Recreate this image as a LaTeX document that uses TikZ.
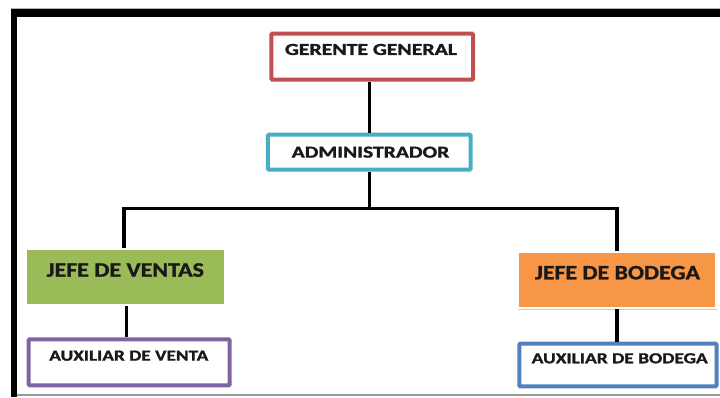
\documentclass[tikz,border=0pt]{standalone}
\usepackage{fontspec}
\setmainfont{Carlito}[BoldFeatures={FakeBold=1.2}]
\usetikzlibrary{shadows}
\definecolor{cred}{HTML}{C0504D}
\definecolor{cteal}{HTML}{4BACC6}
\definecolor{cgreen}{HTML}{9BBB59}
\definecolor{corange}{HTML}{F79646}
\definecolor{cpurple}{HTML}{8064A2}
\definecolor{cblue}{HTML}{4F81BD}
\tikzset{
  outlinebox/.style={draw=#1, line width=4pt, fill=white, rounded corners=1pt, inner sep=0pt},
  filledbox/.style={draw=white, line width=2pt, fill=#1, inner sep=0pt,
    drop shadow={shadow xshift=0.8pt, shadow yshift=-1.2pt, fill=black!60, opacity=0.35}},
  lbl/.style={inner sep=0pt, anchor=center, font=\bfseries, text=black!90},
  conn/.style={draw=black, line width=3.3pt, line join=miter},
}
\begin{document}
\begin{tikzpicture}[x=1pt, y=-1pt]
\useasboundingbox (0,0) rectangle (720,397);
% frame
\fill[black!30] (11,7.6) rectangle (720,9);
\fill[black] (11,9) rectangle (720,16.5);
\fill[black] (11,9) rectangle (17.3,397);
\fill[black!40] (17.3,394.4) rectangle (720,395.6);
% boxes
\node[outlinebox=cred, minimum width=201.7pt, minimum height=46pt] (gg) at (372.2,56.7) {};
\node[outlinebox=cteal, minimum width=202.7pt, minimum height=35pt] (adm) at (369.3,152.2) {};
\node[filledbox=cgreen, minimum width=199pt, minimum height=55.7pt] (jv) at (125.5,277.2) {};
\node[filledbox=corange, minimum width=198.3pt, minimum height=56.6pt] (jb) at (616.8,280) {};
\node[outlinebox=cpurple, minimum width=201pt, minimum height=46pt] (av) at (129.2,362.3) {};
\node[outlinebox=cblue, minimum width=197.2pt, minimum height=42.6pt] (ab) at (617.9,365) {};
% labels
\node[lbl] (tgg) at (371,49.5) {\resizebox{172pt}{11pt}{GERENTE GENERAL}};
\node[lbl] (tadm) at (370.5,152.2) {\resizebox{157.6pt}{11pt}{ADMINISTRADOR}};
\node[lbl] (tjv) at (125.3,270) {\resizebox{157.3pt}{13.4pt}{JEFE DE VENTAS}};
\node[lbl] (tjb) at (617.5,272.7) {\resizebox{165pt}{13.4pt}{JEFE DE BODEGA}};
\node[lbl] (tav) at (128.8,355.7) {\resizebox{159pt}{10pt}{AUXILIAR DE VENTA}};
\node[lbl] (tab) at (619.7,358.3) {\resizebox{176pt}{10pt}{AUXILIAR DE BODEGA}};
% junction coordinates
\coordinate (jx) at (369.3,208.3);
\coordinate (jl) at (124,208.3);
\coordinate (jr) at (617,208.3);
\coordinate (xv) at (126.5,0);
\coordinate (xb) at (617,0);
% connectors
\draw[conn] (gg.south -| jx) -- (adm.north -| jx);
\draw[conn] (adm.south -| jx) -- (jx);
\draw[conn] (jv.north -| jl) -- (jl) -- (jr) -- (jb.north -| jr);
\draw[conn] (jv.south -| xv) -- (av.north -| xv);
\draw[conn] (jb.south -| xb) -- (ab.north -| xb);
\end{tikzpicture}
\end{document}
